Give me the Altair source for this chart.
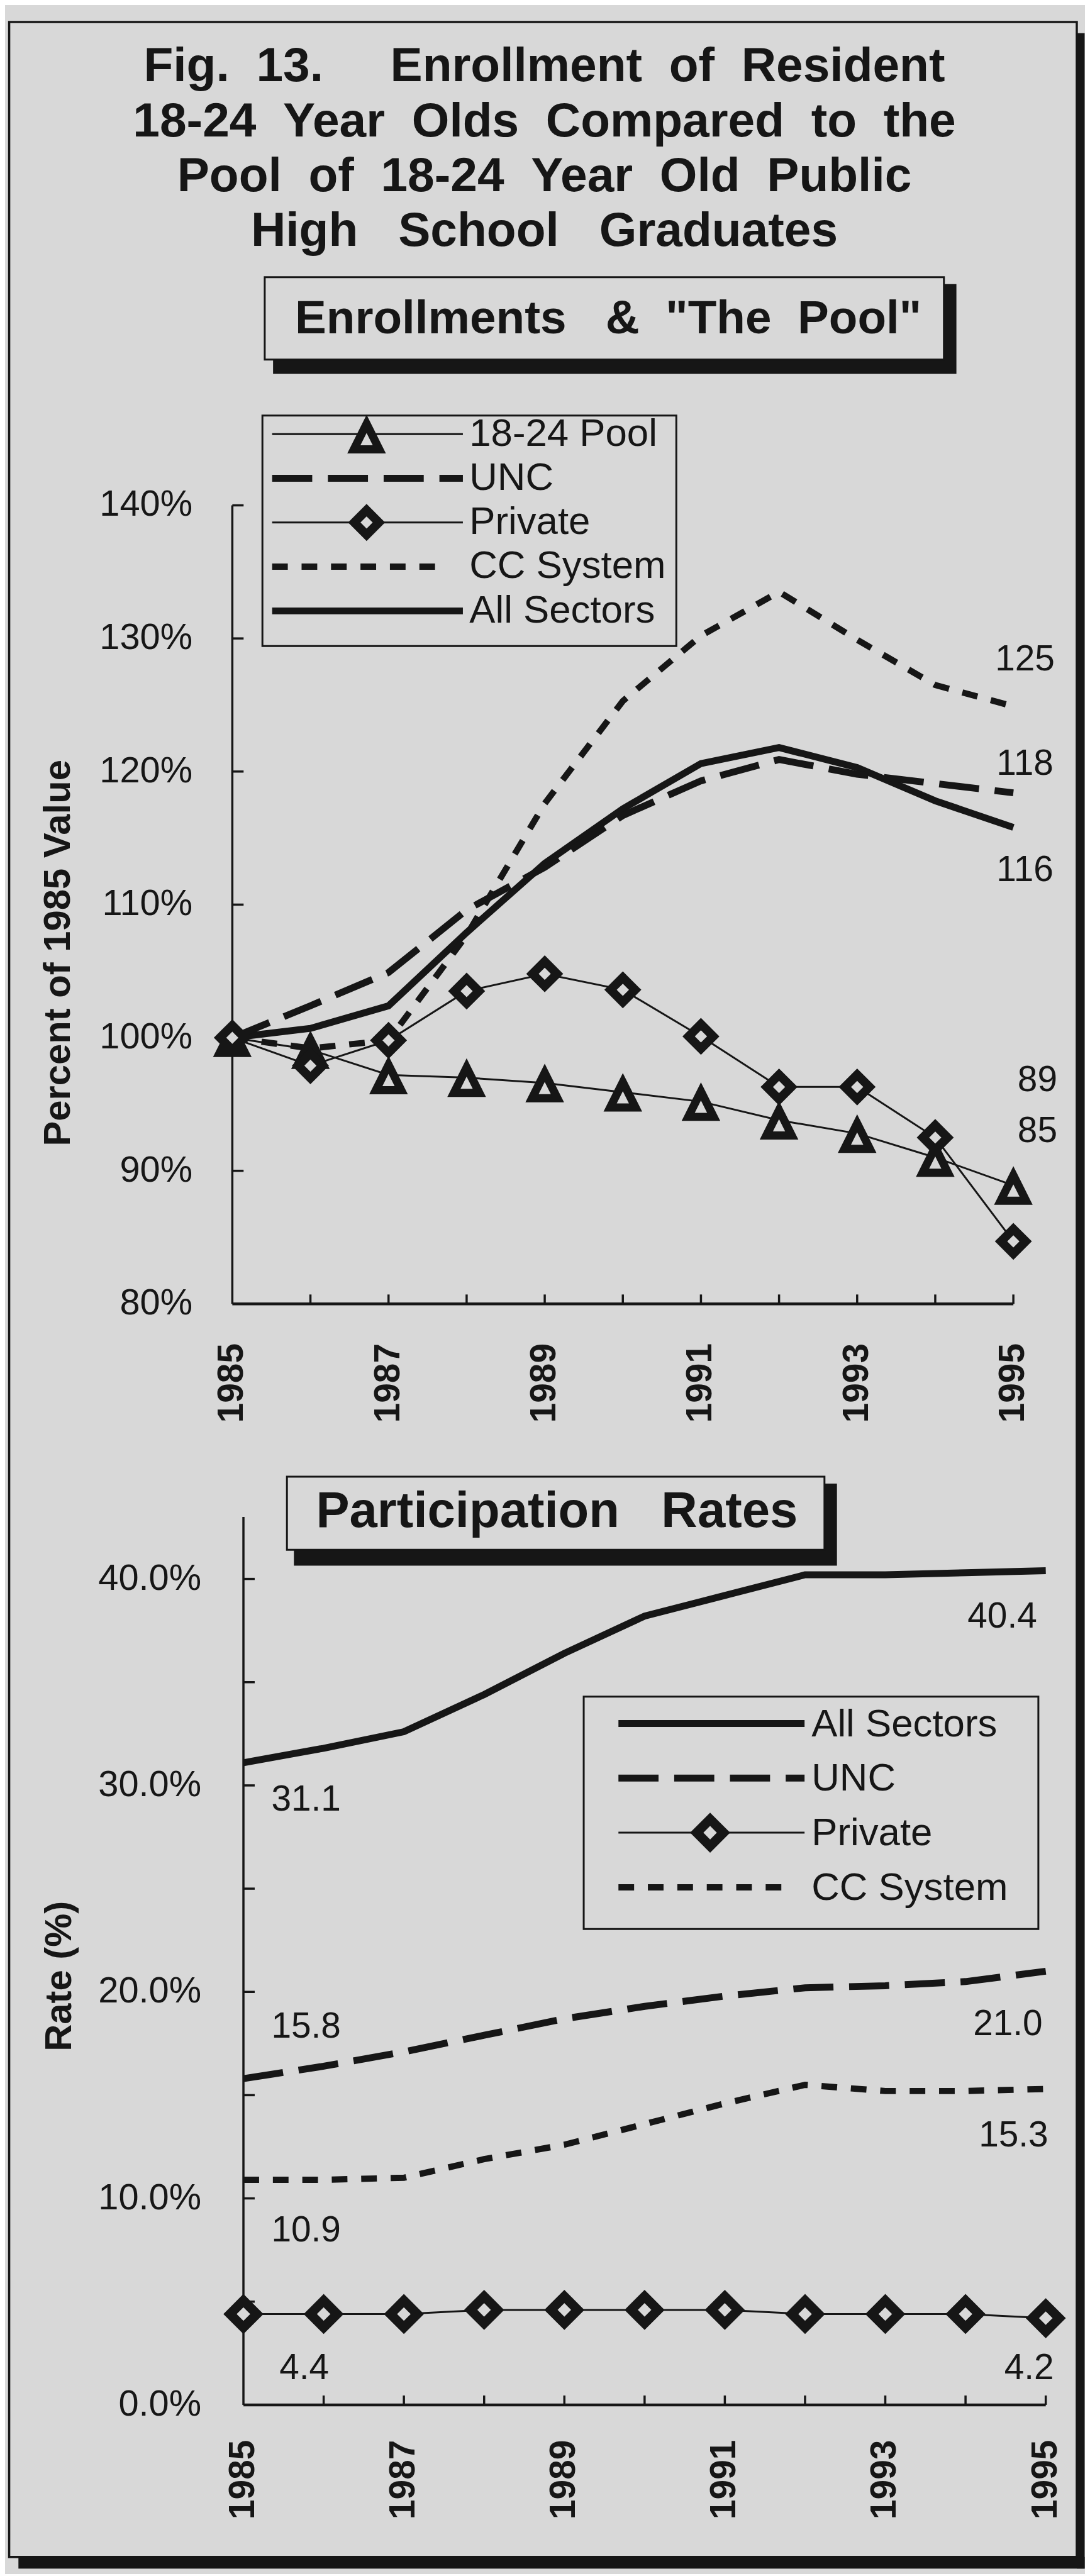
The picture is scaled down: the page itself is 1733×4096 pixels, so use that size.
import altair as alt
import pandas as pd

S = 0.739
INK = "#161616"
BG = "#d8d8d8"
FONT = "Liberation Sans, Arial, Helvetica, sans-serif"
NB = "\u00a0"

# ---------------- data ----------------
years = list(range(1985, 1996))
label_years = [1985, 1987, 1989, 1991, 1993, 1995]
minor_years = list(range(1986, 1996))

# Enrollments & "The Pool" (percent of 1985 value)
pool_pct = [100, 99.1, 97.2, 97.0, 96.6, 95.9, 95.2, 93.8, 92.8, 91.0, 88.9]
unc_pct = [100, 102.4, 104.9, 109.6, 112.8, 116.7, 119.3, 120.9, 119.8, 119.1, 118.4]
private_pct = [100, 97.9, 99.8, 103.5, 104.8, 103.6, 100.1, 96.3, 96.3, 92.5, 84.7]
cc_pct = [100, 99.2, 99.8, 107.7, 117.6, 125.3, 130.2, 133.5, 129.9, 126.5, 124.9]
all_pct = [100, 100.7, 102.4, 107.9, 113.1, 117.2, 120.6, 121.8, 120.3, 117.8, 115.8]

# Participation rates (%)
all_rate = [31.1, 31.8, 32.6, 34.4, 36.4, 38.2, 39.2, 40.2, 40.2, 40.3, 40.4]
unc_rate = [15.8, 16.4, 17.1, 17.9, 18.7, 19.3, 19.8, 20.2, 20.3, 20.5, 21.0]
private_rate = [4.4, 4.4, 4.4, 4.6, 4.6, 4.6, 4.6, 4.4, 4.4, 4.4, 4.2]
cc_rate = [10.9, 10.9, 11.0, 11.9, 12.6, 13.6, 14.6, 15.5, 15.2, 15.2, 15.3]

top_label_values = [80, 90, 100, 110, 120, 130, 140]
top_label_text = ["80%", "90%", "100%", "110%", "120%", "130%", "140%"]
top_tick_values = [90, 100, 110, 120, 130, 140]
bot_label_values = [0, 10, 20, 30, 40]
bot_label_text = ["0.0%", "10.0%", "20.0%", "30.0%", "40.0%"]
bot_tick_values = [5, 10, 15, 20, 25, 30, 35, 40]
year_label_text = ["1985", "1987", "1989", "1991", "1993", "1995"]

title_lines = [
    "Fig." + NB * 2 + "13." + NB * 5 + "Enrollment" + NB * 2 + "of" + NB * 2 + "Resident",
    (NB * 2).join(["18-24", "Year", "Olds", "Compared", "to", "the"]),
    (NB * 2).join(["Pool", "of", "18-24", "Year", "Old", "Public"]),
    (NB * 3).join(["High", "School", "Graduates"]),
]
top_box_title = "Enrollments" + NB * 3 + "&" + NB * 2 + '"The' + NB * 2 + 'Pool"'
bot_box_title = "Participation" + NB * 3 + "Rates"
top_y_title = "Percent of 1985 Value"
bot_y_title = "Rate (%)"

# ---------------- geometry (reference px -> output px) ----------------
O1 = (502, 1080)    # top plot origin in reference pixels
O2 = (502, 3265)    # bottom plot origin in reference pixels
W1 = (2189 - 502) * S
H1 = (2805 - 1080) * S
W2 = (2259 - 502) * S
H2 = (5183 - 3265) * S
GAP = (3265 - 2805) * S
X2_MIN = 1985 - (526 - 502) / ((2259 - 526) / 10)


def r1(x=None, y=None):
    if x is not None:
        return (x - O1[0]) * S
    return (y - O1[1]) * S


def r2(x=None, y=None):
    if x is not None:
        return (x - O2[0]) * S
    return (y - O2[1]) * S


one = pd.DataFrame({"k": [0]})


def box(x0, x1, y0, y1, **kw):
    return alt.Chart(one).mark_rect(**kw).encode(
        x=alt.value(x0), x2=alt.value(x1), y=alt.value(y0), y2=alt.value(y1))


def text_at(x, y, txt, **kw):
    return alt.Chart(pd.DataFrame({"t": [txt]})).mark_text(
        font=FONT, color=INK, **kw).encode(x=alt.value(x), y=alt.value(y), text="t:N")


def hrule(x0, x1, y, **kw):
    return alt.Chart(one).mark_rule(color=INK, **kw).encode(
        x=alt.value(x0), x2=alt.value(x1), y=alt.value(y))


TRI = "M0,-0.8L1,1.2L-1,1.2Z"
styles = {
    "18-24 Pool": dict(strokeWidth=3),
    "UNC": dict(strokeWidth=11, strokeDash=[64, 25]),
    "Private": dict(strokeWidth=3),
    "CC System": dict(strokeWidth=10, strokeDash=[25, 22]),
    "All Sectors": dict(strokeWidth=11),
}
markers = {
    "18-24 Pool": dict(shape=TRI, size=1650, strokeWidth=13, strokeJoin="miter"),
    "Private": dict(shape="diamond", size=1540, strokeWidth=14, strokeJoin="miter"),
}
markers_bot = {
    "Private": dict(shape="diamond", size=1830, strokeWidth=15, strokeJoin="miter"),
}


def sdf(vals):
    return pd.DataFrame({"year": years, "value": vals})


def legend(entries, mk, x0, x1, x1cc, y0, step, mx, tx, tdy):
    layers = []
    for i, name in enumerate(entries):
        y = y0 + i * step
        st = styles[name]
        layers.append(hrule(x0, x1cc if name == "CC System" else x1, y, **st))
        if name in mk:
            m = mk[name]
            layers.append(alt.Chart(one).mark_point(
                filled=True, fill=BG, stroke=INK, opacity=1, **m).encode(
                x=alt.value(mx), y=alt.value(y)))
        layers.append(text_at(tx, y + tdy, name, align="left", baseline="alphabetic",
                              fontSize=62))
    return layers


def panel(xs, ys, W, H, y_vals, y_text, y_pad, y_ticks, ax_x, x_pad, rel, title, tpos):
    """Axis lines, inward ticks, tick labels and axis title drawn with the panel's scales."""
    layers = []
    X = lambda f: alt.X(f, scale=xs, axis=None)
    Y = lambda f: alt.Y(f, scale=ys, axis=None)
    layers.append(alt.Chart(one).mark_rule(color=INK, strokeWidth=3.5).encode(
        x=alt.value(ax_x), y=alt.value(0), y2=alt.value(H)))
    layers.append(hrule(ax_x, W, H, strokeWidth=4.5))
    layers.append(alt.Chart(pd.DataFrame({"v": y_ticks})).mark_rule(
        color=INK, strokeWidth=3.5).encode(
        y=Y("v:Q"), x=alt.value(ax_x), x2=alt.value(ax_x + 18)))
    layers.append(alt.Chart(pd.DataFrame({"year": minor_years})).mark_rule(
        color=INK, strokeWidth=3.5).encode(
        x=X("year:Q"), y=alt.value(H), y2=alt.value(H - 15)))
    layers.append(alt.Chart(pd.DataFrame({"v": y_vals, "t": y_text})).mark_text(
        font=FONT, fontSize=58, color=INK, align="right", baseline="middle").encode(
        y=Y("v:Q"), x=alt.value(-y_pad), text="t:N"))
    layers.append(alt.Chart(pd.DataFrame({"year": label_years, "t": year_label_text})).mark_text(
        font=FONT, fontSize=57, fontWeight="bold", color=INK, angle=270,
        align="right", baseline="middle").encode(
        x=X("year:Q"), y=alt.value(H + x_pad), text="t:N"))
    layers.append(alt.Chart(pd.DataFrame({"t": [title]})).mark_text(
        font=FONT, fontSize=60, fontWeight="bold", color=INK, angle=270,
        align="center", baseline="middle").encode(
        x=alt.value(rel(x=tpos[0])), y=alt.value(rel(y=tpos[1])), text="t:N"))
    return layers


# ---------------- top panel ----------------
xs1 = alt.Scale(domain=[1985, 1995], nice=False, zero=False)
ys1 = alt.Scale(domain=[80, 140], nice=False, zero=False)
X1 = lambda f: alt.X(f, scale=xs1, axis=None)
Y1 = lambda f: alt.Y(f, scale=ys1, axis=None)

top_layers = []
# outer frame with drop shadow
top_layers.append(box(r1(x=20), r1(x=2326), r1(y=36), r1(y=5512),
                      fillOpacity=0, stroke=INK, strokeWidth=3.5))
top_layers.append(box(r1(x=2326), r1(x=2343), r1(y=60), r1(y=5537), fill=INK))
top_layers.append(box(r1(x=40), r1(x=2343), r1(y=5512), r1(y=5537), fill=INK))
# main title
top_layers.append(alt.Chart(one).mark_text(
    text=title_lines, font=FONT, fontSize=77, fontWeight="bold", color=INK,
    align="center", baseline="alphabetic", lineHeight=(520 - 164) / 3 * S).encode(
    x=alt.value(r1(x=1176)), y=alt.value(r1(y=164))))
# section box
top_layers.append(box(r1(x=590), r1(x=2066), r1(y=602), r1(y=796), fill=INK))
top_layers.append(box(r1(x=572), r1(x=2039), r1(y=587), r1(y=765), fill=BG,
                      stroke=INK, strokeWidth=3))
top_layers.append(text_at(r1(x=1314), r1(y=709), top_box_title, align="center",
                          baseline="alphabetic", fontSize=75, fontWeight="bold"))

top_layers += panel(xs1, ys1, W1, H1, top_label_values, top_label_text, 63.6,
                    top_tick_values, 0, 63, r1, top_y_title, (127, 2047))

for vals, name in [(all_pct, "All Sectors"), (unc_pct, "UNC"), (cc_pct, "CC System"),
                   (pool_pct, "18-24 Pool"), (private_pct, "Private")]:
    top_layers.append(alt.Chart(sdf(vals)).mark_line(color=INK, **styles[name]).encode(
        x=X1("year:Q"), y=Y1("value:Q")))
for vals, name in [(pool_pct, "18-24 Pool"), (private_pct, "Private")]:
    top_layers.append(alt.Chart(sdf(vals)).mark_point(
        filled=True, fill=BG, stroke=INK, opacity=1, **markers[name]).encode(
        x=X1("year:Q"), y=Y1("value:Q")))

# end-value annotations
for vals, ddx, ddy in [(cc_pct, 18.5, -57.7), (unc_pct, 18.5, -28.8), (all_pct, 18.5, 85.9),
                       (pool_pct, 38.4, -150.1), (private_pct, 38.4, -158.1)]:
    top_layers.append(alt.Chart(pd.DataFrame({"year": [years[-1]], "value": [vals[-1]]})).mark_text(
        font=FONT, fontSize=57, color=INK, align="center", baseline="alphabetic",
        dx=ddx, dy=ddy).encode(
        x=X1("year:Q"), y=Y1("value:Q"), text=alt.Text("value:Q", format=".0f")))

# legend
top_layers.append(box(r1(x=567), r1(x=1461), r1(y=886), r1(y=1384), fill=BG,
                      stroke=INK, strokeWidth=3))
top_layers += legend(["18-24 Pool", "UNC", "Private", "CC System", "All Sectors"], markers,
                     r1(x=588), r1(x=1000), r1(x=957), r1(y=926), 95.5 * S,
                     r1(x=792), r1(x=1014), 25 * S)

top = alt.layer(*top_layers).properties(width=W1, height=H1)

# ---------------- bottom panel ----------------
xs2 = alt.Scale(domain=[X2_MIN, 1995], nice=False, zero=False)
ys2 = alt.Scale(domain=[0, 43], nice=False, zero=False)
X2 = lambda f: alt.X(f, scale=xs2, axis=None)
Y2 = lambda f: alt.Y(f, scale=ys2, axis=None)

bot_layers = []
bot_layers.append(box(r2(x=635), r2(x=1808), r2(y=3193), r2(y=3370), fill=INK))
bot_layers.append(box(r2(x=620), r2(x=1781), r2(y=3178), r2(y=3336), fill=BG,
                      stroke=INK, strokeWidth=3))
bot_layers.append(text_at(r2(x=1203), r2(y=3287), bot_box_title, align="center",
                          baseline="alphabetic", fontSize=80, fontWeight="bold"))

bot_layers += panel(xs2, ys2, W2, H2, bot_label_values, bot_label_text, 49.5,
                    bot_tick_values, (526 - 502) * S, 56, r2, bot_y_title, (130, 4257))

for vals, name in [(all_rate, "All Sectors"), (unc_rate, "UNC"), (cc_rate, "CC System"),
                   (private_rate, "Private")]:
    bot_layers.append(alt.Chart(sdf(vals)).mark_line(color=INK, **styles[name]).encode(
        x=X2("year:Q"), y=Y2("value:Q")))
bot_layers.append(alt.Chart(sdf(private_rate)).mark_point(
    filled=True, fill=BG, stroke=INK, opacity=1, **markers_bot["Private"]).encode(
    x=X2("year:Q"), y=Y2("value:Q")))

# end-value annotations
for vals, idx, al, ddx, ddy in [
        (all_rate, 0, "center", 100, 76.9), (unc_rate, 0, "center", 100, -65.3),
        (cc_rate, 0, "center", 100, 98.4), (private_rate, 0, "center", 97, 103.6),
        (all_rate, -1, "right", -14, 90.8), (unc_rate, -1, "right", -5, 101.7),
        (cc_rate, -1, "right", 4, 91.9), (private_rate, -1, "right", 13, 97)]:
    bot_layers.append(alt.Chart(pd.DataFrame({"year": [years[idx]], "value": [vals[idx]]})).mark_text(
        font=FONT, fontSize=57, color=INK, align=al, baseline="alphabetic",
        dx=ddx, dy=ddy).encode(
        x=X2("year:Q"), y=Y2("value:Q"), text=alt.Text("value:Q", format=".1f")))

# legend
bot_layers.append(box(r2(x=1261), r2(x=2243), r2(y=3653), r2(y=4155), fill=BG,
                      stroke=INK, strokeWidth=3))
bot_layers += legend(["All Sectors", "UNC", "Private", "CC System"], markers_bot,
                     r2(x=1336), r2(x=1738), r2(x=1695), r2(y=3711), 118 * S,
                     r2(x=1534), r2(x=1753), 27.5 * S)

bottom = alt.layer(*bot_layers).properties(width=W2, height=H2)

chart = alt.vconcat(top, bottom, spacing=GAP, bounds="flush").properties(
    background=BG,
    padding={"left": 4.8, "top": 16.6, "right": 0, "bottom": 0},
).configure_view(strokeWidth=0)

chart.save("out.html", embed_options={"renderer": "svg", "actions": False})
